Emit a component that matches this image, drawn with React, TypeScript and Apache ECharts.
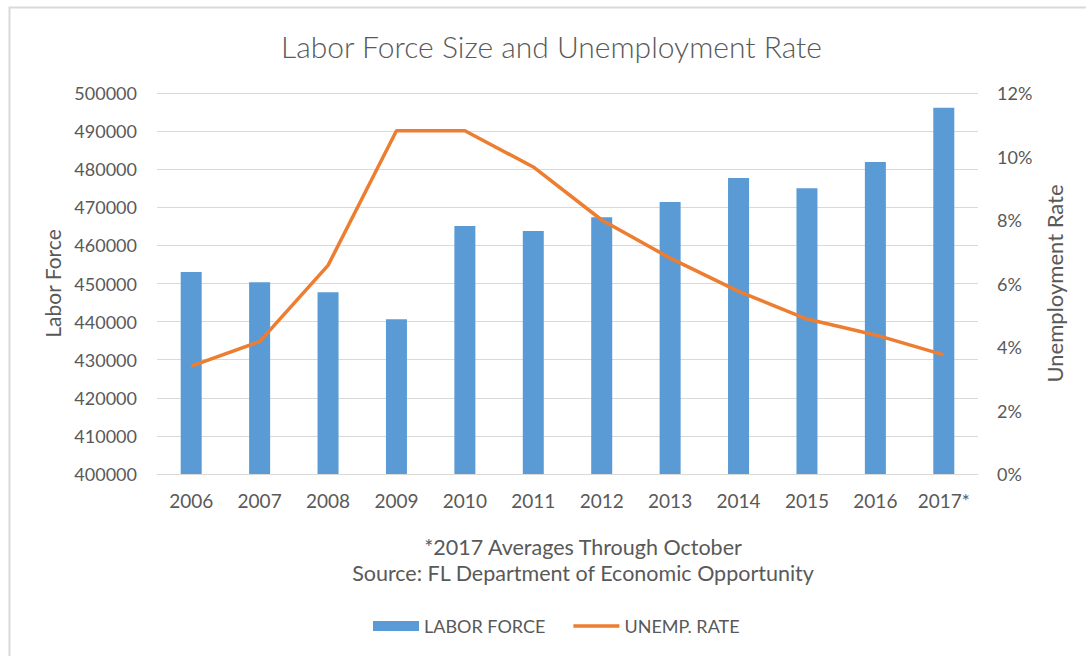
import React, { useEffect, useRef } from "react";
import * as echarts from "echarts";

const years = ["2006", "2007", "2008", "2009", "2010", "2011", "2012", "2013", "2014", "2015", "2016", "2017*"];
const laborForce = [453000, 450350, 447700, 440600, 465100, 463800, 467400, 471400, 477700, 475000, 481900, 496100];
const unempRate = [3.4, 4.17, 6.57, 10.81, 10.81, 9.67, 8.0, 6.8, 5.75, 4.88, 4.38, 3.75];

const FONT = "Lato";
const TXT = "#595959";

export default function App() {
  const ref = useRef<HTMLDivElement>(null);
  useEffect(() => {
    if (!ref.current) return;
    const chart = echarts.init(ref.current, undefined, { renderer: "svg" });
    chart.setOption({
      animation: false,
      backgroundColor: "#ffffff",
      textStyle: { fontFamily: FONT, color: TXT },
      title: {
        text: "Labor Force Size and Unemployment Rate",
        left: 276,
        top: 26,
        textStyle: { fontFamily: FONT, fontSize: 30, fontWeight: 300, color: TXT },
      },
      grid: { left: 157, right: 108, top: 93, height: 381 },
      legend: {
        bottom: 16,
        left: 368,
        itemWidth: 46,
        itemHeight: 10,
        itemGap: 28,
        textStyle: { fontFamily: FONT, fontSize: 18, color: TXT },
        data: [
          { name: "LABOR FORCE", icon: "rect" },
          { name: "UNEMP. RATE", icon: "path://M0,0 H48 V3.5 H0 Z" },
        ],
      },
      xAxis: {
        type: "category",
        data: years,
        axisLine: { lineStyle: { color: "#d9d9d9", width: 1 } },
        axisTick: { show: false },
        axisLabel: { color: TXT, fontFamily: FONT, fontSize: 19, margin: 17 },
      },
      yAxis: [
        {
          type: "value",
          min: 400000,
          max: 500000,
          interval: 10000,
          name: "Labor Force",
          nameLocation: "middle",
          nameGap: 93,
          nameTextStyle: { color: TXT, fontFamily: FONT, fontSize: 21 },
          axisLine: { show: false },
          axisTick: { show: false },
          axisLabel: { color: TXT, fontFamily: FONT, fontSize: 18, margin: 20, formatter: (v: number) => String(v) },
          splitLine: { lineStyle: { color: "#d9d9d9", width: 1 } },
        },
        {
          type: "value",
          min: 0,
          max: 12,
          interval: 2,
          name: "Unemployment Rate",
          nameLocation: "middle",
          nameGap: 64,
          nameTextStyle: { color: TXT, fontFamily: FONT, fontSize: 22 },
          axisLine: { show: false },
          axisTick: { show: false },
          axisLabel: { color: TXT, fontFamily: FONT, fontSize: 18, margin: 19, formatter: "{value}%" },
          splitLine: { show: false },
        },
      ],
      series: [
        {
          name: "LABOR FORCE",
          type: "bar",
          data: laborForce,
          barWidth: 21,
          itemStyle: { color: "#5B9BD5" },
          yAxisIndex: 0,
        },
        {
          name: "UNEMP. RATE",
          type: "line",
          data: unempRate,
          yAxisIndex: 1,
          symbol: "none",
          lineStyle: { color: "#ED7D31", width: 3.5 },
          itemStyle: { color: "#ED7D31" },
        },
      ],
      graphic: [
        {
          type: "rect",
          shape: { x: 9.5, y: 7.5, width: 1200, height: 800 },
          style: { fill: "none", stroke: "#d9d9d9", lineWidth: 2 },
          silent: true,
        },
        {
          type: "text",
          x: 583,
          y: 547,
          style: {
            text: "*2017 Averages Through October",
            fontFamily: FONT,
            fontSize: 21.5,
            fill: TXT,
            align: "center",
            verticalAlign: "middle",
          },
        },
        {
          type: "text",
          x: 583,
          y: 573,
          style: {
            text: "Source: FL Department of Economic Opportunity",
            fontFamily: FONT,
            fontSize: 21.5,
            fill: TXT,
            align: "center",
            verticalAlign: "middle",
          },
        },
      ],
    });
    return () => chart.dispose();
  }, []);
  return (
    <div
      ref={ref}
      style={{ position: "absolute", left: 0, top: 0, width: 1086, height: 656 }}
    />
  );
}
